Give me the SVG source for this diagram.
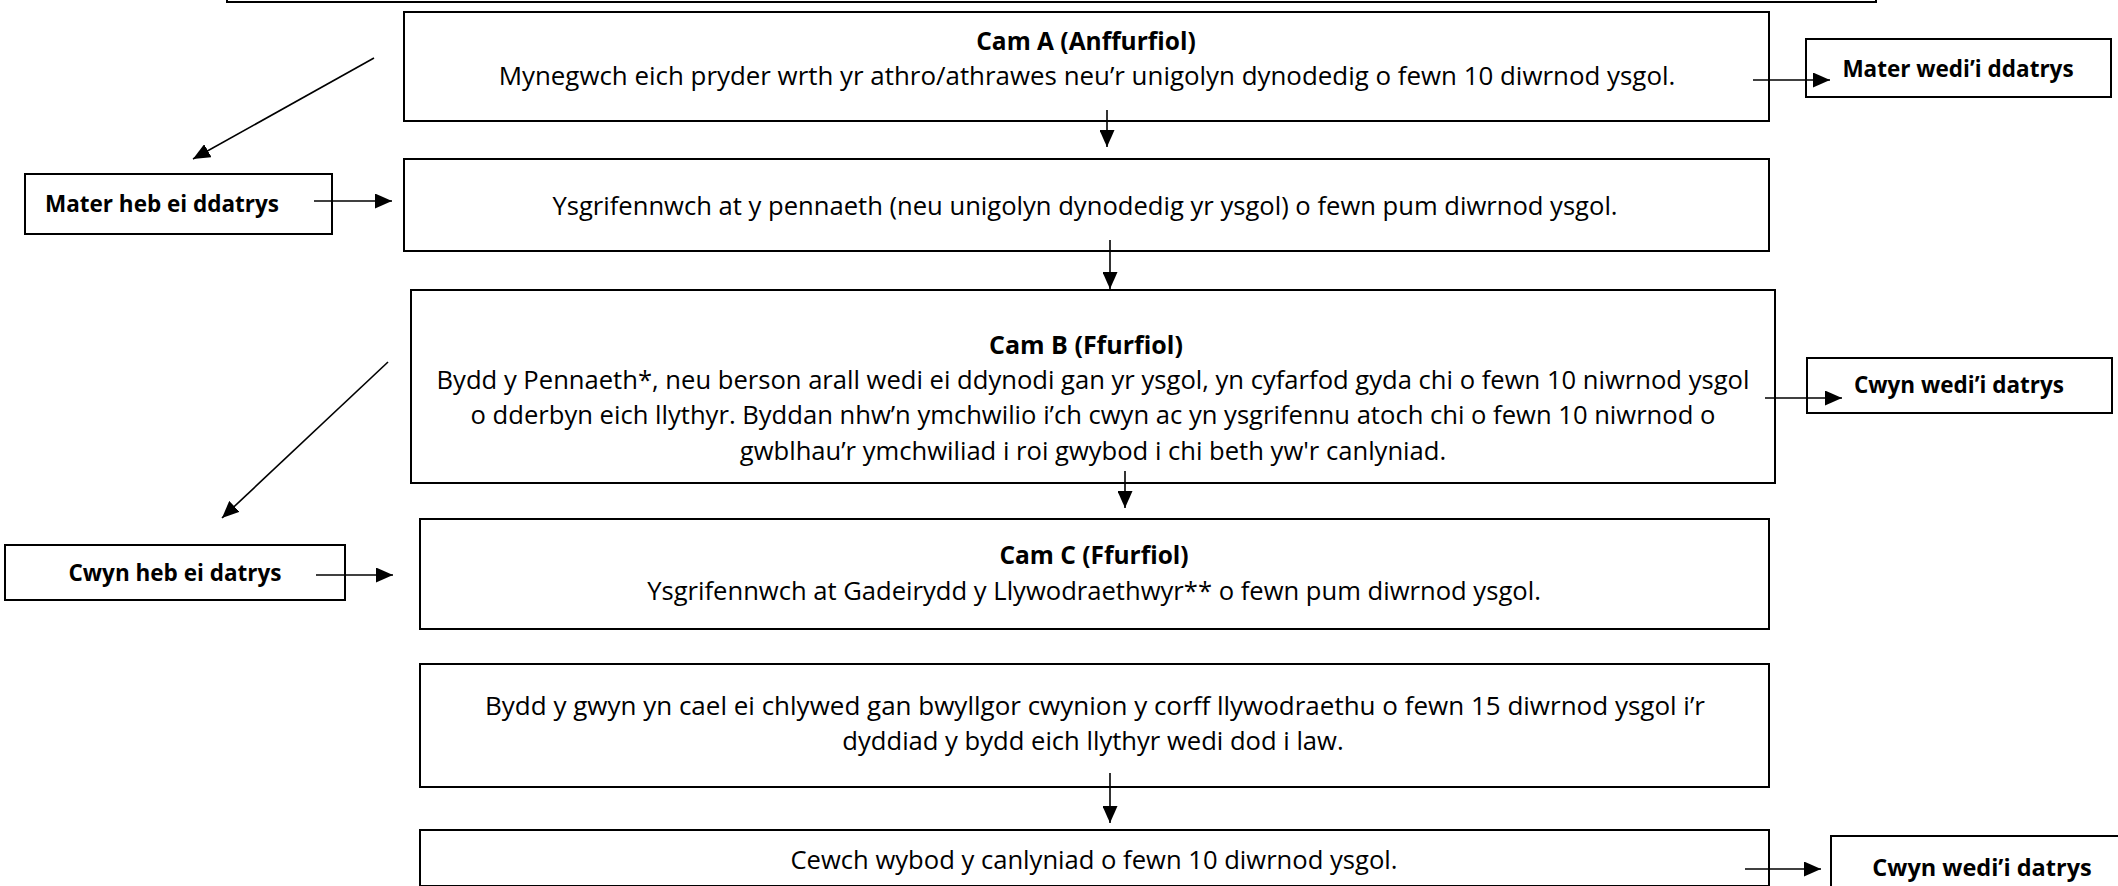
<svg xmlns="http://www.w3.org/2000/svg" width="2118" height="886" viewBox="0 0 2118 886">
  <style>
    .box { fill: #ffffff; stroke: #000000; stroke-width: 2; }
    .t { font-family: "Open Sans", "Liberation Sans", sans-serif; font-size: 25.6px; fill: #000000; text-anchor: middle; }
    .h { font-family: "Open Sans", "Liberation Sans", sans-serif; font-size: 24.5px; font-weight: bold; fill: #000000; text-anchor: middle; }
    .lbl { font-family: "Open Sans", "Liberation Sans", sans-serif; font-size: 22.5px; font-weight: bold; fill: #000000; text-anchor: middle; }
    .conn { stroke: #000000; stroke-width: 1.6; fill: none; marker-end: url(#arrow); }
  </style>
  <defs>
    <marker id="arrow" markerUnits="userSpaceOnUse" markerWidth="17" markerHeight="15" refX="17" refY="7.5" orient="auto" viewBox="0 0 17 15">
      <path d="M0,0 L17,7.5 L0,15 Z" fill="#000000"/>
    </marker>
  </defs>
  <rect width="2118" height="886" fill="#ffffff"/>

  <g id="node-top">
    <rect class="box" x="227" y="-60" width="1649" height="62"/>
  </g>

  <g id="node-cam-a">
    <rect class="box" x="404" y="12" width="1365" height="109"/>
    <text class="h" x="1086" y="50">Cam A (Anffurfiol)</text>
    <text class="t" x="1087" y="85" style="font-size:25.9px">Mynegwch eich pryder wrth yr athro/athrawes neu’r unigolyn dynodedig o fewn 10 diwrnod ysgol.</text>
  </g>

  <g id="node-write-head">
    <rect class="box" x="404" y="159" width="1365" height="92"/>
    <text class="t" x="1085" y="215">Ysgrifennwch at y pennaeth (neu unigolyn dynodedig yr ysgol) o fewn pum diwrnod ysgol.</text>
  </g>

  <g id="node-cam-b">
    <rect class="box" x="411" y="290" width="1364" height="193"/>
    <text class="h" x="1086" y="354" style="font-size:25px">Cam B (Ffurfiol)</text>
    <text class="t" x="1093" y="389">Bydd y Pennaeth*, neu berson arall wedi ei ddynodi gan yr ysgol, yn cyfarfod gyda chi o fewn 10 niwrnod ysgol</text>
    <text class="t" x="1093" y="424">o dderbyn eich llythyr. Byddan nhw’n ymchwilio i’ch cwyn ac yn ysgrifennu atoch chi o fewn 10 niwrnod o</text>
    <text class="t" x="1093" y="460">gwblhau’r ymchwiliad i roi gwybod i chi beth yw'r canlyniad.</text>
  </g>

  <g id="node-cam-c">
    <rect class="box" x="420" y="519" width="1349" height="110"/>
    <text class="h" x="1094" y="564">Cam C (Ffurfiol)</text>
    <text class="t" x="1094" y="600">Ysgrifennwch at Gadeirydd y Llywodraethwyr** o fewn pum diwrnod ysgol.</text>
  </g>

  <g id="node-committee">
    <rect class="box" x="420" y="664" width="1349" height="123"/>
    <text class="t" x="1095" y="715" style="font-size:26px">Bydd y gwyn yn cael ei chlywed gan bwyllgor cwynion y corff llywodraethu o fewn 15 diwrnod ysgol i’r</text>
    <text class="t" x="1093" y="750">dyddiad y bydd eich llythyr wedi dod i law.</text>
  </g>

  <g id="node-outcome">
    <rect class="box" x="420" y="830" width="1349" height="56"/>
    <text class="t" x="1094" y="869">Cewch wybod y canlyniad o fewn 10 diwrnod ysgol.</text>
  </g>

  <g id="node-mater-wedi">
    <rect class="box" x="1806" y="39" width="305" height="58"/>
    <text class="lbl" x="1958" y="77">Mater wedi’i ddatrys</text>
  </g>

  <g id="node-mater-heb">
    <rect class="box" x="25" y="174" width="307" height="60"/>
    <text class="lbl" x="162" y="212">Mater heb ei ddatrys</text>
  </g>

  <g id="node-cwyn-wedi">
    <rect class="box" x="1807" y="358" width="305" height="55"/>
    <text class="lbl" x="1959" y="393">Cwyn wedi’i datrys</text>
  </g>

  <g id="node-cwyn-heb">
    <rect class="box" x="5" y="545" width="340" height="55"/>
    <text class="lbl" x="175" y="581">Cwyn heb ei datrys</text>
  </g>

  <g id="node-cwyn-wedi-2">
    <rect class="box" x="1831" y="836" width="320" height="80"/>
    <text class="lbl" x="1982" y="876" style="font-size:23.5px">Cwyn wedi’i datrys</text>
  </g>

  <g id="connectors">
    <line class="conn" x1="1753" y1="80" x2="1830" y2="80"/>
    <line class="conn" x1="374" y1="58" x2="193" y2="159"/>
    <line class="conn" x1="314" y1="201" x2="392" y2="201"/>
    <line class="conn" x1="1107" y1="110" x2="1107" y2="147"/>
    <line class="conn" x1="1110" y1="240" x2="1110" y2="289"/>
    <line class="conn" x1="1765" y1="398" x2="1842" y2="398"/>
    <line class="conn" x1="388" y1="362" x2="222" y2="518"/>
    <line class="conn" x1="316" y1="575" x2="393" y2="575"/>
    <line class="conn" x1="1125" y1="471" x2="1125" y2="508"/>
    <line class="conn" x1="1110" y1="773" x2="1110" y2="823"/>
    <line class="conn" x1="1745" y1="869" x2="1821" y2="869"/>
  </g>
</svg>
